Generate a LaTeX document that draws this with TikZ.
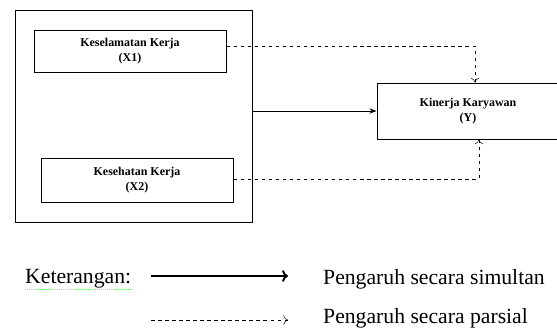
\documentclass[tikz,border=0pt]{standalone}
\usepackage{fontspec}
\setmainfont{Liberation Serif}
\usetikzlibrary{arrows.meta}

\tikzset{
	varbox/.style={draw, thick, align=center, font=\fontsize{10.2}{13}\selectfont\bfseries, inner sep=0pt},
	legendtext/.style={anchor=west, inner sep=0pt, font=\fontsize{18.5}{21}\selectfont},
}

\begin{document}
\begin{tikzpicture}[x=0.03cm, y=-0.03cm]
	\useasboundingbox (0,0) rectangle (557,331);

	%boxes
	\node[draw, thick, minimum width=7.11cm, minimum height=6.36cm] (outer) at (133.5,116) {};
	\node[varbox, minimum width=5.76cm, minimum height=1.26cm] (x1) at (130,51) {Keselamatan Kerja\\(X1)};
	\node[varbox, minimum width=5.76cm, minimum height=1.32cm] (x2) at (137,180) {Kesehatan Kerja\\(X2)};
	\node[varbox, minimum width=5.46cm, minimum height=1.68cm] (y) at (468,111) {Kinerja Karyawan\\(Y)};

	%arrows
	\draw[thick, -{Stealth[length=6pt]}]	(y.west -| outer.east) -- (y.west);
	\draw[dashed, -{To[length=4pt,width=7pt]}]	([yshift=0.14cm]x1.east) -| ([xshift=0.21cm]y.north);
	\draw[dashed, -{To[length=4pt,width=7pt]}]	([yshift=0.03cm]x2.east) -| ([xshift=0.33cm]y.south);

	%legend
	\node[legendtext] (ket) at (25,279) {Keterangan:};
	\draw[green!60, densely dotted, thick]	([yshift=-1pt]ket.south west) -- ([yshift=-1pt]ket.south east);
	\coordinate (s1) at (151,276);
	\coordinate (s2) at (288,276);
	\coordinate (p1) at (151,320);
	\coordinate (p2) at (288,320);
	\node[legendtext] (simultan) at (323,279) {Pengaruh secara simultan};
	\node[legendtext] (parsial) at (323,318) {Pengaruh secara parsial};
	\draw[line width=1.6pt, -{To[length=5pt,width=10pt]}]	(s1) -- (s2);
	\draw[dashed, -{To[length=4pt,width=8pt]}]	(p1) -- (p2);

\end{tikzpicture}
\end{document}
